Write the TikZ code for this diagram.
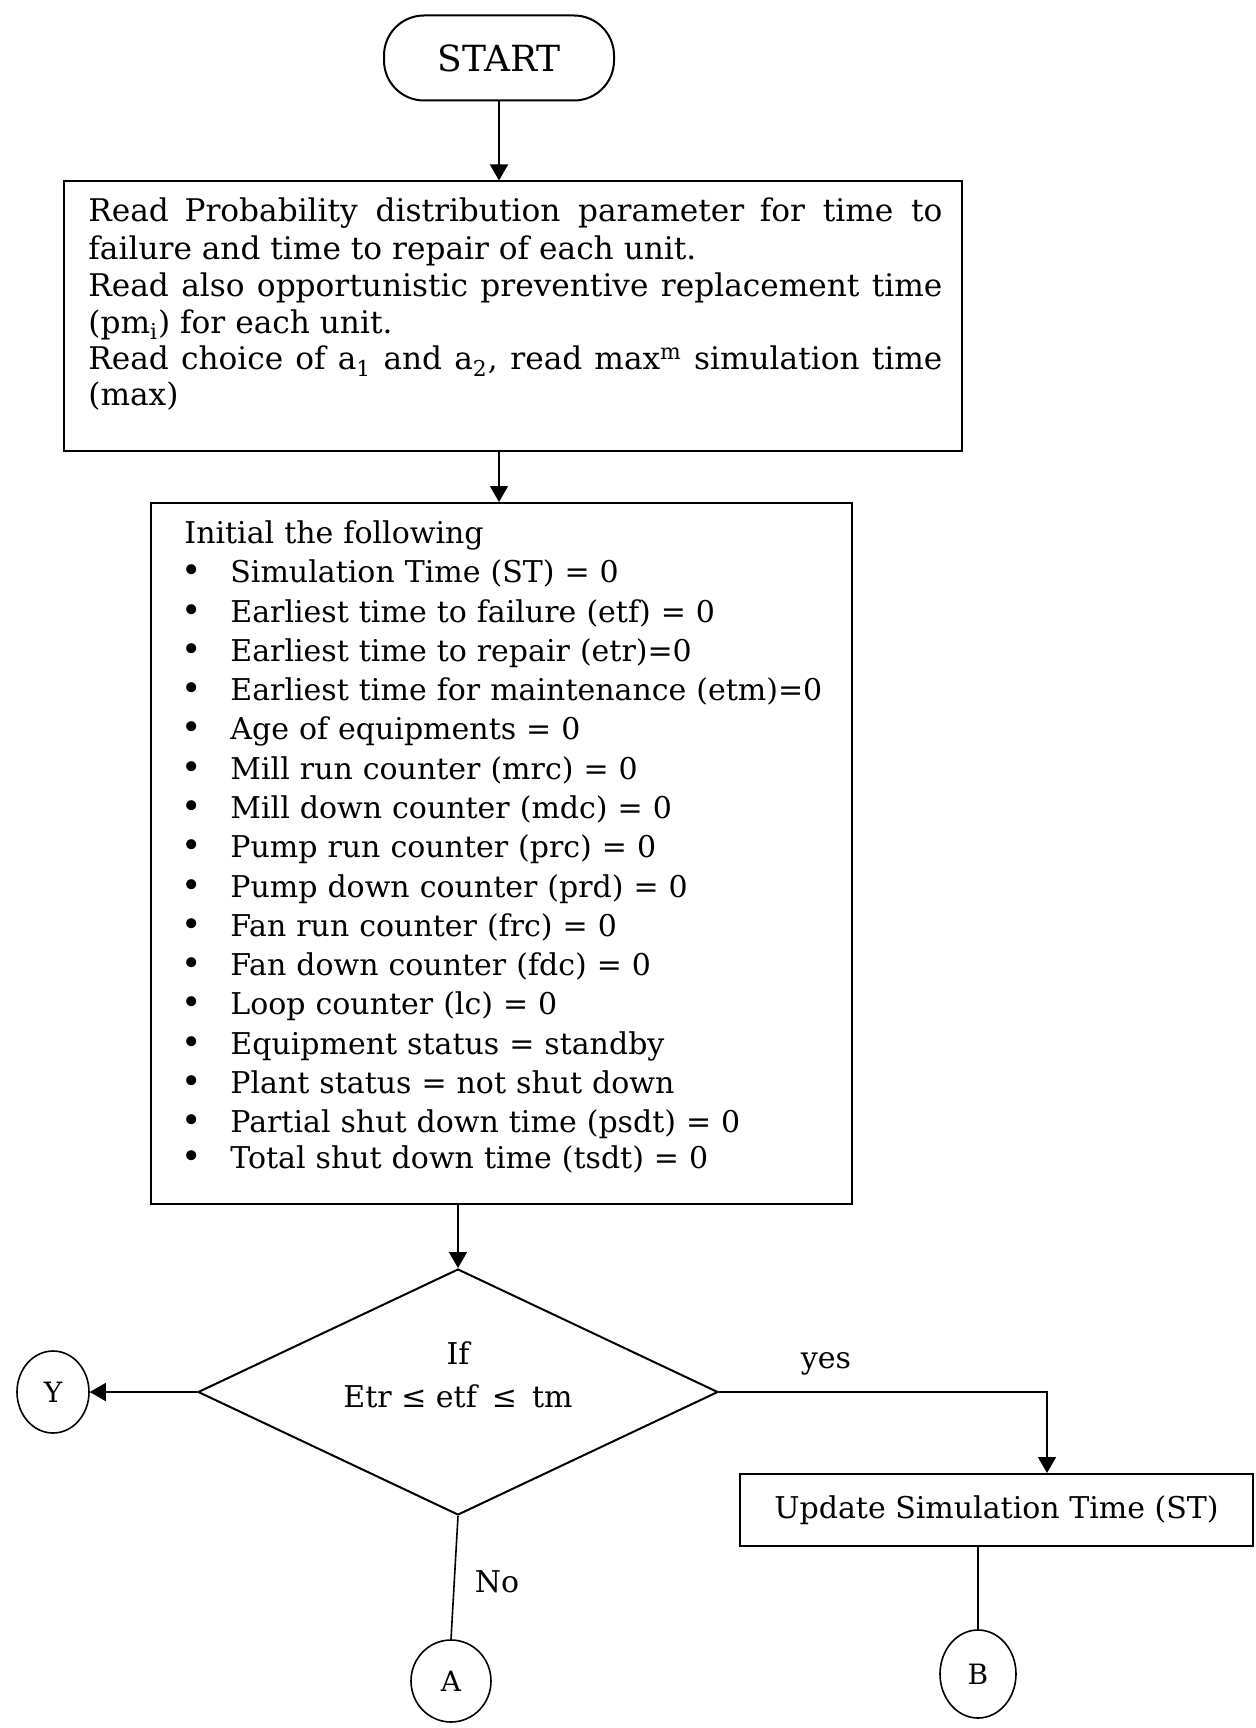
\documentclass[tikz,border=0pt]{standalone}
\usepackage{fontspec}
\setmainfont{DejaVu Serif}
\usetikzlibrary{arrows.meta,shapes.geometric}
\newcommand\bul{\hspace*{-1.5pt}\makebox[24.5pt][l]{\scalebox{1.15}{\textbullet}}}
\tikzset{
  box/.style={draw, line width=1pt, rectangle, inner sep=0pt},
  term/.style={draw, line width=1pt, rounded corners=20pt, inner sep=0pt,
    minimum width=115pt, minimum height=42.5pt, font=\fontsize{18}{22}\selectfont},
  conn/.style={draw, line width=0.8pt, ellipse, inner sep=0pt, font=\fontsize{14}{17}\selectfont},
  decision/.style={draw, line width=1pt, diamond, inner sep=0pt},
  flow/.style={line width=0.8pt, -{Triangle[length=8pt,width=9pt]}},
  plain/.style={line width=0.8pt},
  lbl/.style={inner sep=0pt, font=\fontsize{15}{18}\selectfont},
}
\begin{document}
\begin{tikzpicture}[x=0.5pt,y=-0.5pt]
\useasboundingbox[fill=white] (0,0) rectangle (1255,1728);

% start terminal
\node[term] (start) at (499,58) {START};

% input block
\node[box, minimum width=449pt, minimum height=134.5pt] (read) at (513,316) {};
\node[lbl, anchor=north west, text width=427pt, align=justify] (readtxt) at (88,197.5) {%
\fontsize{15.6}{18.7}\selectfont
Read\enspace Probability distribution parameter\enspace for time to\linebreak
failure and time to repair of each unit.\par
Read also opportunistic preventive replacement time\linebreak
(pm\textsubscript{i}) for each unit.\par
Read choice of a\textsubscript{1} and a\textsubscript{2}, read max\textsuperscript{m} simulation time\linebreak
(max)};

% initialisation block
\node[box, minimum width=350.5pt, minimum height=350.5pt] (init) at (501.5,853.5) {};
\node[lbl, anchor=north west, text width=330pt, align=left] (inittxt) at (184,520.5) {%
\fontsize{15}{19.63}\selectfont
Initial the following\par
\bul Simulation Time (ST) = 0\par
\bul Earliest time to failure (etf) = 0\par
\bul Earliest time to repair (etr)=0\par
\bul Earliest time for maintenance (etm)=0\par
\bul Age of equipments = 0\par
\bul Mill run counter (mrc) = 0\par
\bul Mill down counter (mdc) = 0\par
\bul Pump run counter (prc) = 0\par
\bul Pump down counter (prd) = 0\par
\bul Fan run counter (frc) = 0\par
\bul Fan down counter (fdc) = 0\par
\bul Loop counter (lc) = 0\par
\bul Equipment status = standby\par
\bul Plant status = not shut down\par
\bul Partial shut down time (psdt) = 0\par
\bul Total shut down time (tsdt) = 0};

% decision
\node[decision, minimum width=260pt, minimum height=123pt] (dia) at (458,1392) {};
\node[lbl] (dif) at (458,1353) {If};
\node[lbl] (dcond) at (458,1396) {Etr ≤ etf\enspace ≤\enspace tm};

% connectors and update block
\node[conn, minimum width=36pt, minimum height=41pt] (Y) at (53,1392) {Y};
\node[box, minimum width=256.5pt, minimum height=36pt, font=\fontsize{15}{18}\selectfont] (upd) at (996.5,1510) {Update Simulation Time (ST)};
\node[conn, minimum width=38pt, minimum height=44pt] (B) at (978,1674) {B};
\node[conn, minimum width=40pt, minimum height=41pt] (A) at (451,1681) {A};
\coordinate (yesc) at (1047,1392);

% labels
\node[lbl] (yes) at (826,1364) {yes};
\node[lbl] (no) at (497,1582) {No};

% flow lines
\draw[flow] (start.south) -- (start.south |- read.north);
\draw[flow] (read.south -| start.south) -- (init.north -| start.south);
\draw[flow] (init.south -| dia.north) -- (dia.north);
\draw[flow] (dia.west) -- (Y.east);
\draw[flow] (dia.east) -- (yesc) -- (yesc |- upd.north);
\draw[plain] (upd.south -| B.north) -- (B.north);
\draw[plain] (dia.south) -- (A.north);
\end{tikzpicture}
\end{document}
